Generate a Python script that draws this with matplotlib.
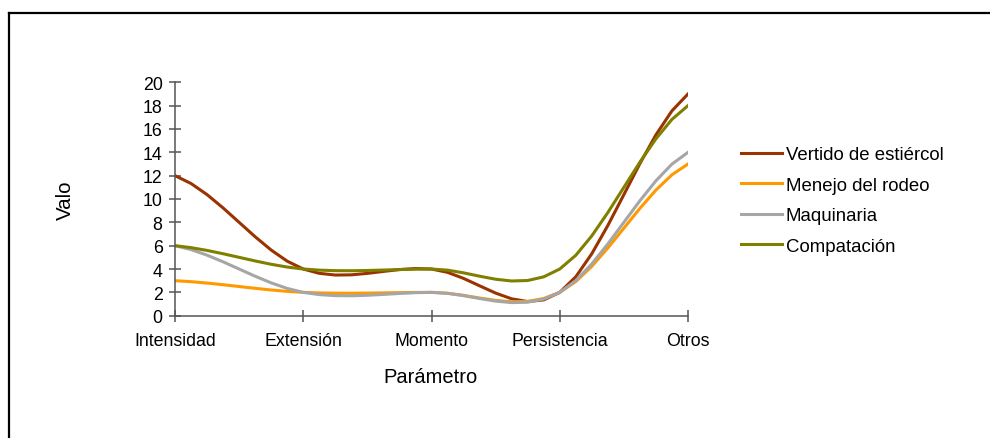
import matplotlib
matplotlib.use("Agg")
import matplotlib.pyplot as plt
import numpy as np
from matplotlib.lines import Line2D

plt.rcParams["font.family"] = ["Liberation Sans", "DejaVu Sans"]

categories = ["Intensidad", "Extensión", "Momento", "Persistencia", "Otros"]
vertido = [12, 4, 4, 2, 19]
menejo = [3, 2, 2, 2, 13]
maquinaria = [6, 2, 2, 2, 14]
compatacion = [6, 4, 4, 4, 18]

series = [
    ("Vertido de estiércol", vertido, "#993300"),
    ("Menejo del rodeo", menejo, "#FF9900"),
    ("Maquinaria", maquinaria, "#A6A6A6"),
    ("Compatación", compatacion, "#808000"),
]


def smooth(values, pieces=8):
    """Excel-like smoothed line (Catmull-Rom), returned as sampled x/y."""
    y = np.asarray(values, dtype=float)
    n = len(y)
    xs, ys = [], []
    for i in range(n - 1):
        y0 = y[i - 1] if i > 0 else y[i]
        y3 = y[i + 2] if i + 2 < n else y[i + 1]
        m1 = (y[i + 1] - y0) / 2
        m2 = (y3 - y[i]) / 2
        t = np.linspace(0, 1, pieces + 1)[:-1] if i < n - 2 else np.linspace(0, 1, pieces + 1)
        h00 = 2 * t**3 - 3 * t**2 + 1
        h10 = t**3 - 2 * t**2 + t
        h01 = -2 * t**3 + 3 * t**2
        h11 = t**3 - t**2
        xs.extend(i + t)
        ys.extend(h00 * y[i] + h10 * m1 + h01 * y[i + 1] + h11 * m2)
    return xs, ys


W, H = 990, 439
fig = plt.figure(figsize=(W / 100, H / 100), dpi=100)
left, right, top, bottom = 175, 688, 83.3, 316.7
ax = fig.add_axes([left / W, 1 - bottom / H, (right - left) / W, (bottom - top) / H])

for label, vals, color in series:
    xs, ys = smooth(vals)
    ax.plot(xs, ys, color=color, linewidth=2.2, label=label, solid_joinstyle="round")

ax.set_xlim(0, len(categories) - 1)
ax.set_ylim(0, 20)
ax.set_xticks(range(len(categories)))
ax.set_xticklabels(categories)
ax.set_yticks(range(0, 21, 2))

for side in ("top", "right"):
    ax.spines[side].set_visible(False)
for side in ("left", "bottom"):
    ax.spines[side].set_color("#555555")
    ax.spines[side].set_linewidth(1.1)
ax.tick_params(axis="both", direction="inout", length=8, width=1.1,
               color="#555555", labelsize=12.8, labelcolor="black")
ax.tick_params(axis="x", pad=8)
ax.tick_params(axis="y", pad=5)

ax.set_xlabel("Parámetro", fontsize=14.5)
ax.xaxis.label.set_va("center")
ax.xaxis.set_label_coords(((383 + 478) / 2 - left) / (right - left),
                          (bottom - 378) / (bottom - top))
ax.set_ylabel("Valo", fontsize=14.8)
ax.yaxis.label.set_va("center")
ax.yaxis.set_label_coords((65 - left) / (right - left), (bottom - 200) / (bottom - top))

leg = ax.legend(loc="upper left", bbox_to_anchor=(741 / W, 1 - 147 / H),
                bbox_transform=fig.transFigure, frameon=False, fontsize=13.4,
                handlelength=2.2, handletextpad=0.2, labelspacing=0.73,
                borderpad=0, borderaxespad=0)

# outer chart-area border: only its top and left edges fall inside the picture
fig.add_artist(Line2D([8.5 / W, 8.5 / W], [-0.1, 1 - 13.5 / H], transform=fig.transFigure,
                      color="black", linewidth=1.6, solid_capstyle="projecting"))
fig.add_artist(Line2D([8.5 / W, 1.1], [1 - 13.5 / H, 1 - 13.5 / H], transform=fig.transFigure,
                      color="black", linewidth=1.6, solid_capstyle="projecting"))

fig.savefig("out.png", dpi=100)
